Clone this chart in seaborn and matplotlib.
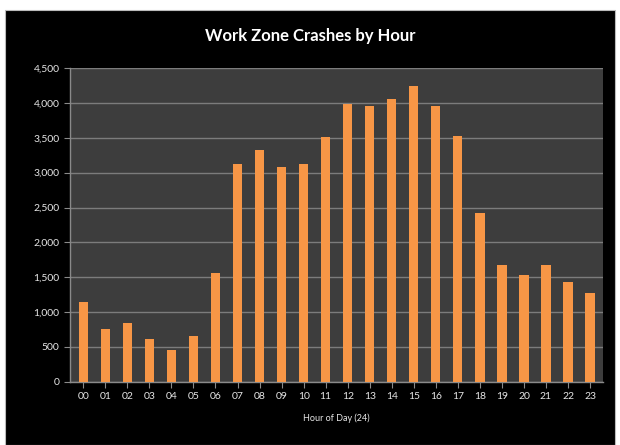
import matplotlib
matplotlib.use("Agg")
import matplotlib.pyplot as plt
import seaborn as sns
import pandas as pd
from matplotlib.patches import Rectangle
from matplotlib.ticker import FuncFormatter

# crash counts
hours = ['00', '01', '02', '03', '04', '05', '06', '07', '08', '09', '10', '11',
         '12', '13', '14', '15', '16', '17', '18', '19', '20', '21', '22', '23']
crashes = [1150, 760, 850, 620, 460, 660, 1560, 3130, 3330, 3080, 3130, 3510,
           3980, 3960, 4060, 4240, 3960, 3520, 2420, 1670, 1530, 1670, 1430, 1270]
y_ticks = [0, 500, 1000, 1500, 2000, 2500, 3000, 3500, 4000, 4500]

df = pd.DataFrame({'hour': hours, 'crashes': crashes})

sns.set_style('dark', {'axes.facecolor': '#3d3d3d'})
plt.rcParams['font.family'] = ['Lato', 'DejaVu Sans']

fig = plt.figure(figsize=(6.2, 4.45), dpi=100, facecolor='white')
fig.patches.append(Rectangle((0.008, 0.0), 0.984, 0.977, transform=fig.transFigure,
                             facecolor='black', edgecolor='#bbbbbb', lw=0.8, zorder=-5))
ax = fig.add_axes([0.113, 0.142, 0.86, 0.705])
ax.set_zorder(2)

sns.barplot(data=df, x='hour', y='crashes', color='#f79646', width=0.42,
            saturation=1, edgecolor='none', linewidth=0, ax=ax, zorder=3)

ax.set_ylim(0, 4500)
ax.set_yticks(y_ticks)
ax.yaxis.set_major_formatter(FuncFormatter(lambda v, p: f'{int(v):,}'))
ax.grid(axis='y', color='#7c7c7c', lw=1.0, zorder=1)
ax.grid(axis='x', visible=False)

for s in ['top', 'right']:
    ax.spines[s].set_visible(False)
for s in ['left', 'bottom']:
    ax.spines[s].set_visible(True)
    ax.spines[s].set_color('#8a8a8a')
    ax.spines[s].set_linewidth(1.0)

ax.tick_params(axis='both', colors='#8a8a8a', labelcolor='#e6e6e6', labelsize=7.5,
               direction='out', length=4, width=0.8, bottom=True, left=True)
ax.set_xlim(-0.6, 23.6)

ax.set_xlabel('Hour of Day (24)', color='#e6e6e6', fontsize=6.5, labelpad=9)
ax.set_ylabel('')
fig.text(0.5, 0.92, 'Work Zone Crashes by Hour', color='white', fontsize=12,
         fontweight='bold', ha='center', va='center')

fig.savefig('out.png', dpi=100, facecolor=fig.get_facecolor())
